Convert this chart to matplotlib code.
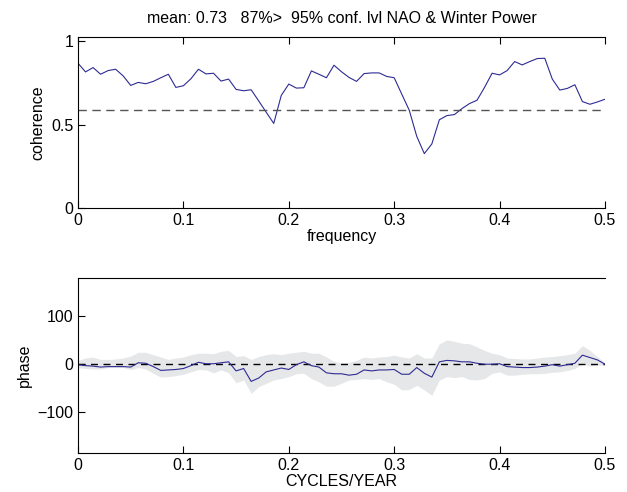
import numpy as np
import matplotlib
matplotlib.use('Agg')
import matplotlib.pyplot as plt

plt.rcParams['font.family'] = ['Liberation Sans', 'DejaVu Sans']
plt.rcParams['font.size'] = 11.5

#
# values, 71 frequencies from 0 to 0.5 cycles/year
#
coherence = [0.869, 0.817, 0.843, 0.803, 0.825, 0.833, 0.793, 0.736, 0.754, 0.746,
             0.760, 0.782, 0.803, 0.724, 0.734, 0.776, 0.833, 0.805, 0.809, 0.762,
             0.774, 0.712, 0.704, 0.710, 0.643, 0.575, 0.508, 0.676, 0.744, 0.720,
             0.722, 0.823, 0.803, 0.782, 0.857, 0.818, 0.784, 0.760, 0.807, 0.811,
             0.811, 0.790, 0.782, 0.684, 0.587, 0.430, 0.327, 0.385, 0.530, 0.555,
             0.561, 0.597, 0.627, 0.647, 0.724, 0.809, 0.799, 0.825, 0.879, 0.859,
             0.879, 0.897, 0.899, 0.774, 0.708, 0.718, 0.740, 0.639, 0.623, 0.637,
             0.653]
conf_level = 0.59

phase = [-1, -3, -4, -6, -5, -5, -5, -6, 3, 2,
         -5, -13, -12, -11, -9, -3, 4, 1, 1, 3,
         5, -14, -9, -36, -29, -16, -12, -8, -11, -1,
         5, -3, -6, -18, -20, -20, -23, -21, -12, -14,
         -12, -12, -11, -21, -21, -7, -19, -27, 5, 8,
         7, 5, 5, 2, 0, 0, 1, -5, -6, -7,
         -7, -6, -4, -1, -4, -1, 2, 19, 14, 9,
         0]
phase_hi = [8, 13, 15, 10, 10, 11, 13, 17, 25, 25,
            20, 15, 10, 13, 15, 20, 23, 23, 22, 27,
            29, 16, 18, 10, 16, 20, 22, 20, 23, 25,
            27, 23, 23, 15, 6, 3, 4, 8, 15, 13,
            15, 16, 19, 15, 13, 22, 13, 13, 43, 51,
            48, 44, 43, 36, 29, 23, 20, 13, 12, 11,
            11, 13, 15, 16, 18, 20, 23, 39, 29, 16,
            3]
phase_lo = [-7, -9, -10, -10, -7, -7, -7, -11, -7, -10,
            -19, -27, -26, -24, -21, -16, -11, -12, -18, -12,
            -18, -39, -33, -61, -47, -40, -33, -30, -26, -20,
            -19, -30, -37, -46, -46, -40, -33, -32, -30, -32,
            -30, -37, -42, -54, -53, -44, -54, -65, -33, -26,
            -28, -26, -32, -33, -30, -19, -16, -23, -23, -21,
            -20, -20, -19, -17, -16, -13, -9, 1, -4, -2,
            -2]

freq = np.linspace(0, 0.5, len(coherence))
xticks = [0, 0.1, 0.2, 0.3, 0.4, 0.5]
line_color = '#2e2b94'

fig = plt.figure(figsize=(6.27, 4.92), dpi=100)

#
# coherence panel
#
ax1 = fig.add_axes([0.1244, 0.577, 0.8405, 0.348])
ax1.plot(freq, coherence, color=line_color, lw=0.8)
ax1.axhline(conf_level, color='#555555', lw=1.0, ls=(0, (6, 4)))
ax1.set_xlim(0, 0.5)
ax1.set_ylim(0, 1.027)
ax1.set_xticks(xticks)
ax1.set_xticklabels(['0', '0.1', '0.2', '0.3', '0.4', '0.5'])
ax1.set_yticks([0, 0.5, 1])
ax1.set_yticklabels(['0', '0.5', '1'])
ax1.tick_params(direction='in', length=5, top=True, width=0.8)
ax1.spines['right'].set_visible(False)
ax1.set_xlabel('frequency', labelpad=1)
ax1.set_ylabel('coherence', labelpad=4)
ax1.set_title('mean: 0.73   87%>  95% conf. lvl NAO & Winter Power',
              fontsize=11.5, pad=10)

#
# phase panel
#
ax2 = fig.add_axes([0.1244, 0.0793, 0.8405, 0.356])
ax2.fill_between(freq, phase_lo, phase_hi, color='#e6e7e8', lw=0)
ax2.axhline(0, color='black', lw=1.0, ls=(0, (5, 4)))
ax2.plot(freq, phase, color=line_color, lw=0.8)
ax2.set_xlim(0, 0.5)
ax2.set_ylim(-186, 181)
ax2.set_xticks(xticks)
ax2.set_xticklabels(['0', '0.1', '0.2', '0.3', '0.4', '0.5'])
ax2.set_yticks([-100, 0, 100])
ax2.set_yticklabels(['\u2212100', '0', '100'])
ax2.tick_params(direction='in', length=5, width=0.8)
ax2.spines['right'].set_visible(False)
ax2.set_xlabel('CYCLES/YEAR', labelpad=1)
ax2.set_ylabel('phase', labelpad=4)

fig.savefig('out.png', dpi=100)
